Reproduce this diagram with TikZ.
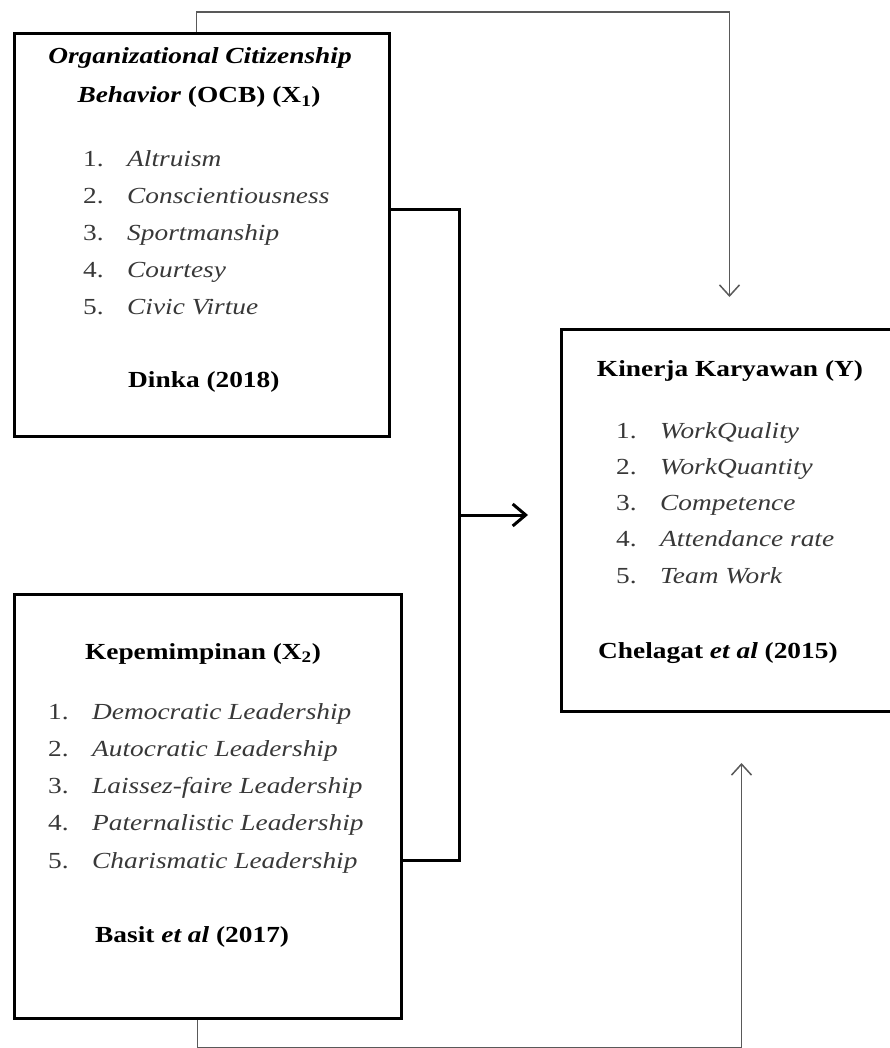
\documentclass[tikz,border=0pt]{standalone}
\usepackage{fontspec}
\setmainfont[FakeStretch=1.19]{Liberation Serif}
\usetikzlibrary{matrix,arrows.meta}

\colorlet{itemgray}{black!78}
\colorlet{linkgray}{black!65}

\tikzset{
  varbox/.style={draw, line width=3pt, anchor=north west, inner sep=0pt},
  heading/.style={font=\bfseries, anchor=base, inner sep=0pt},
  source/.style={font=\bfseries, anchor=base west, inner sep=0pt},
  indicators/.style={
    matrix of nodes,
    row sep=#1,
    nodes={anchor=base west, inner sep=0pt, text height=16pt, text depth=5pt, text=itemgray},
    column 1/.style={nodes={text width=44pt}},
    column 2/.style={nodes={font=\itshape}},
  },
  thinlink/.style={draw=linkgray, line width=1.5pt, -{Straight Barb[length=11pt,width=20pt]}},
  thicklink/.style={line width=3pt},
}

\begin{document}
\fontsize{23}{28}\selectfont
\begin{tikzpicture}[x=1pt,y=-1pt]
\useasboundingbox (0,0) rectangle (890,1048);

% variable boxes
\node[varbox, minimum width=375pt, minimum height=403pt] (ocb) at (13,32) {};
\node[varbox, minimum width=387pt, minimum height=424pt] (lead) at (13,593) {};
\node[varbox, minimum width=335pt, minimum height=382pt] (kin) at (560,328) {};

% X1
\node[heading] (ocbtitle) at (200,64) {\textit{Organizational Citizenship}};
\node[heading] (ocbtitleb) at (199,103) {\textit{Behavior} (OCB) (X\textsubscript{1})};
\matrix[indicators=15.75pt, matrix anchor=ocbind-1-1.base west] (ocbind) at (83,167) {
1. & Altruism \\
2. & Conscientiousness \\
3. & Sportmanship \\
4. & Courtesy \\
5. & Civic Virtue \\
};
\node[source] (ocbsrc) at (128,387) {Dinka (2018)};

% X2
\node[heading] (leadtitle) at (203,659) {Kepemimpinan (X\textsubscript{2})};
\matrix[indicators=16.25pt, matrix anchor=leadind-1-1.base west] (leadind) at (48,719) {
1. & Democratic Leadership \\
2. & Autocratic Leadership \\
3. & Laissez-faire Leadership \\
4. & Paternalistic Leadership \\
5. & Charismatic Leadership \\
};
\node[source] (leadsrc) at (95,942) {Basit \textit{et al} (2017)};

% Y
\node[heading] (kintitle) at (730,376) {Kinerja Karyawan (Y)};
\matrix[indicators=15.25pt, matrix anchor=kinind-1-1.base west] (kinind) at (616,438) {
1. & WorkQuality \\
2. & WorkQuantity \\
3. & Competence \\
4. & Attendance rate \\
5. & Team Work \\
};
\node[source] (kinsrc) at (598,658) {Chelagat \textit{et al} (2015)};

% links
\coordinate (join) at (459,515);
\draw[thicklink] ([yshift=25pt]ocb.east) -| (join);
\draw[thicklink] ([yshift=-54pt]lead.east) -| (join);
\draw[thicklink, -{Straight Barb[length=13pt,width=22pt]}, shorten >=32pt] (join) -- (join -| kin.west);
\draw[thinlink, shorten >=31pt] ([xshift=-5.5pt]ocb.north) -- ++(0,-20) -| ([xshift=0.5pt]kin.north);
\draw[thinlink, shorten >=50pt] ([xshift=-10.5pt]lead.south) -- ++(0,27.5) -| ([xshift=12.5pt]kin.south);
\end{tikzpicture}
\end{document}
